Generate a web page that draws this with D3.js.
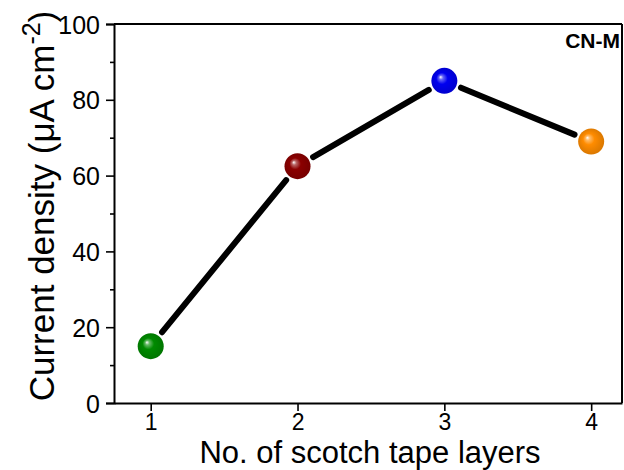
<!DOCTYPE html>
<html>
<head>
<meta charset="utf-8">
<script src="https://cdn.jsdelivr.net/npm/d3@7"></script>
<style>
  body { margin: 0; background: #fff; }
  svg { display: block; font-family: "Liberation Sans", Arial, sans-serif; }
</style>
</head>
<body>
<svg id="chart" width="624" height="470"></svg>
<script>
// tape layers vs current density
const layers = [1, 2, 3, 4];
const density = [15, 62.5, 85, 69];
const pointColors = ['#008a00', '#8b0000', '#0000f0', '#ff8c00'];
const yTicks = [0, 20, 40, 60, 80, 100];
const yMinorTicks = [10, 30, 50, 70, 90];
const xTicks = [1, 2, 3, 4];

const svg = d3.select('#chart');
const mLeft = 114, mRight = 622, mTop = 24, mBottom = 403;

const x = d3.scaleLinear().domain([0.75, 4.21]).range([mLeft, mRight]);
const y = d3.scaleLinear().domain([0, 100]).range([mBottom, mTop]);

// sphere gradients
const defs = svg.append('defs');
pointColors.forEach((c, i) => {
  const g = defs.append('radialGradient')
    .attr('id', 'ball' + i)
    .attr('cx', '50%').attr('cy', '50%').attr('r', '55%')
    .attr('fx', '35%').attr('fy', '35%');
  g.append('stop').attr('offset', '0%').attr('stop-color', '#ffffff');
  g.append('stop').attr('offset', '15%').attr('stop-color', d3.interpolateRgb('#fff', c)(0.6));
  g.append('stop').attr('offset', '40%').attr('stop-color', c);
  g.append('stop').attr('offset', '100%').attr('stop-color', d3.color(c).darker(0.5));
});

// frame
svg.append('line').attr('x1', mLeft).attr('x2', mRight).attr('y1', mTop).attr('y2', mTop)
  .attr('stroke', '#000').attr('stroke-width', 2);
svg.append('line').attr('x1', mRight).attr('x2', mRight).attr('y1', mTop).attr('y2', mBottom)
  .attr('stroke', '#000').attr('stroke-width', 2);

// y axis
const yAxis = svg.append('g').attr('transform', `translate(${mLeft},0)`)
  .call(d3.axisLeft(y).tickValues(yTicks).tickSize(8).tickPadding(6));
svg.append('g').attr('transform', `translate(${mLeft},0)`)
  .call(d3.axisLeft(y).tickValues(yMinorTicks).tickSize(4).tickFormat(''))
  .call(g => g.select('.domain').remove());

// x axis
const xAxis = svg.append('g').attr('transform', `translate(0,${mBottom})`)
  .call(d3.axisBottom(x).tickValues(xTicks).tickFormat(d3.format('d'))
    .tickSize(8).tickPadding(3).tickSizeOuter(0));

svg.selectAll('.domain').attr('stroke-width', 2);
svg.selectAll('.tick line').attr('stroke-width', 1.6);
svg.selectAll('.tick text').attr('fill', '#000')
  .attr('font-family', '"Liberation Sans", Arial, sans-serif');
yAxis.selectAll('.tick text').attr('font-size', 25).attr('dy', '0.36em');
xAxis.selectAll('.tick text').attr('font-size', 23);

// connecting segments with gaps near the balls
const r = 13, gap = 5;
const pts = layers.map((l, i) => [x(l), y(density[i])]);
d3.pairs(pts).forEach(([a, b]) => {
  const dx = b[0] - a[0], dy = b[1] - a[1];
  const len = Math.hypot(dx, dy);
  const off = r + gap;
  svg.append('line')
    .attr('x1', a[0] + dx / len * off).attr('y1', a[1] + dy / len * off)
    .attr('x2', b[0] - dx / len * off).attr('y2', b[1] - dy / len * off)
    .attr('stroke', '#000').attr('stroke-width', 6).attr('stroke-linecap', 'round');
});

svg.selectAll('circle.ball').data(layers).enter().append('circle')
  .attr('class', 'ball')
  .attr('cx', d => x(d))
  .attr('cy', (d, i) => y(density[i]))
  .attr('r', r)
  .attr('fill', (d, i) => `url(#ball${i})`);

// titles
svg.append('text')
  .attr('x', 370).attr('y', 463)
  .attr('text-anchor', 'middle').attr('font-size', 31)
  .text('No. of scotch tape layers');

const yl = svg.append('text')
  .attr('transform', 'translate(54,206) rotate(-90)')
  .attr('text-anchor', 'middle').attr('font-size', 35);
yl.append('tspan').text('Current density (\u03bcA cm');
yl.append('tspan').attr('dy', -14).attr('font-size', 25).text('-2');
yl.append('tspan').attr('dy', 14).text(')');

svg.append('text')
  .attr('x', 620).attr('y', 48)
  .attr('text-anchor', 'end').attr('font-size', 21).attr('font-weight', 'bold')
  .text('CN-M');
</script>
</body>
</html>
